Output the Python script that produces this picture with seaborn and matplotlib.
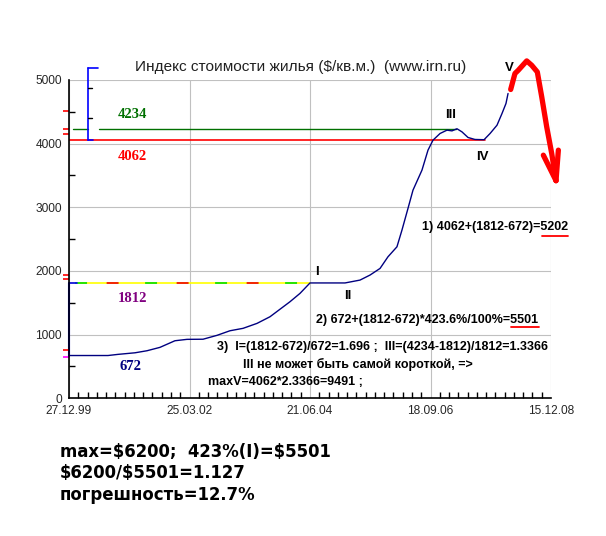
import pandas as pd
import seaborn as sns
import matplotlib.pyplot as plt
from matplotlib.lines import Line2D

# index values ($ per sq.m.)
dates = ["2000-01-03", "2000-09-17", "2000-11-24", "2001-03-20", "2001-06-09",
         "2001-09-05", "2001-12-16", "2002-03-08", "2002-06-25", "2002-09-28",
         "2002-12-25", "2003-03-24", "2003-06-27", "2003-09-23", "2004-02-06",
         "2004-04-14", "2004-06-21", "2005-02-14", "2005-05-27", "2005-08-03",
         "2005-10-10", "2005-12-03", "2006-02-02", "2006-03-08", "2006-04-18",
         "2006-05-22", "2006-07-22", "2006-09-01", "2006-10-05", "2006-11-22",
         "2007-01-08", "2007-02-11", "2007-03-17", "2007-04-20", "2007-05-31",
         "2007-07-17", "2007-09-17", "2007-10-28", "2007-12-14", "2008-01-17",
         "2008-02-13", "2008-02-27"]
index_usd = [672, 672, 690, 715, 747,
             800, 904, 926, 928, 989,
             1061, 1099, 1177, 1281, 1517,
             1648, 1812, 1812, 1857, 1936,
             2040, 2223, 2380, 2642, 2983,
             3270, 3584, 3898, 4055, 4160,
             4212, 4201, 4234, 4185, 4097,
             4066, 4062, 4160, 4290, 4474,
             4631, 4788]

# hand drawn forecast arrow
arrow_dates = ["2008-03-16", "2008-04-14", "2008-05-07", "2008-07-03", "2008-08-06",
               "2008-09-13", "2008-10-13", "2008-11-16", "2008-12-20", "2009-01-18"]
arrow_values = [4851, 5102, 5154, 5300, 5231, 5126, 4735, 4262, 3844, 3419]
barb_left_dates = ["2008-10-24", "2009-01-18"]
barb_left_values = [3819, 3419]
barb_right_dates = ["2009-02-03", "2009-01-18"]
barb_right_values = [3898, 3419]

tick_dates = ["1999-12-27", "2002-03-25", "2004-06-21", "2006-09-18", "2008-12-15"]
tick_labels = ["27.12.99", "25.03.02", "21.06.04", "18.09.06", "15.12.08"]

level_start, level_i, level_iv, level_iii = 672, 1812, 4062, 4234

df = pd.DataFrame({"date": pd.to_datetime(dates), "index": index_usd})
t = pd.to_datetime

sns.set_style("white")
plt.rcParams['font.family'] = ['Liberation Sans', 'DejaVu Sans']
plt.rcParams['lines.scale_dashes'] = False
plt.rcParams['text.parse_math'] = False

W, H = 606, 536
fig = plt.figure(figsize=(W / 100, H / 100), dpi=100)
ax = fig.add_axes([69 / W, 1 - 398.3 / H, 482 / W, 318.3 / H])


def fx(x, y):
    return x / W, 1 - y / H


# grid
ax.set_ylim(0, 5000)
ax.set_xlim(t(tick_dates[0]), t(tick_dates[-1]))
ax.set_xticks(t(tick_dates))
ax.set_xticklabels(tick_labels)
ax.set_xticks(pd.date_range(tick_dates[0], tick_dates[-1], periods=53), minor=True)
ax.set_yticks([0, 1000, 2000, 3000, 4000, 5000])
ax.set_yticks([500, 1500, 2500, 3500, 4500], minor=True)
ax.grid(True, which="major", color="#c0c0c0", lw=0.8)
ax.set_axisbelow(True)
for s in ["top", "right"]:
    ax.spines[s].set_visible(False)
for s in ["left", "bottom"]:
    ax.spines[s].set_color("black")
    ax.spines[s].set_linewidth(1.2)
ax.tick_params(axis="y", which="major", direction="inout", length=8, labelsize=8.6, pad=1.2, color="black", width=1)
ax.tick_params(axis="y", which="minor", direction="in", length=4, color="black", width=1, left=True)
ax.tick_params(axis="x", which="major", direction="in", length=5, labelsize=8.6, pad=4.6, color="black", width=1)
ax.tick_params(axis="x", which="minor", direction="in", length=4, color="black", width=1, bottom=True)

# level lines
ax.plot([t("2000-01-23"), t("2000-05-04")], [level_iii] * 2, color="#007000", lw=1)
ax.plot([t("2000-07-18"), t("2007-03-10")], [level_iii] * 2, color="#007000", lw=1)
ax.plot([t(tick_dates[0]), t("2007-09-23")], [level_iv] * 2, color="red", lw=1.2)
i_line = [t(tick_dates[0]), t(tick_dates[2])]
ax.plot(i_line, [level_i] * 2, color="#ffff00", lw=1.2)
ax.plot(i_line, [level_i] * 2, color="#00dd00", lw=1.2, ls=(46, (8.6, 41.8)))
ax.plot(i_line, [level_i] * 2, color="#ee0000", lw=1.2, ls=(23.3, (8.6, 41.8)))
ax.plot([t(tick_dates[0]), t("2000-02-19")], [level_i] * 2, color="blue", lw=1.2)
ax.plot([t(tick_dates[0])] * 2, [level_start, level_i], color="blue", lw=1.5, clip_on=False)

# bracket on the left
bx = t("2000-05-04")
ax.plot([bx, bx], [4055, 5185], color="blue", lw=1.2, clip_on=False)
ax.plot([bx, t("2000-07-11")], [5185, 5185], color="blue", lw=1.2, clip_on=False)
ax.plot([bx, t("2000-06-07")], [4055, 4055], color="blue", lw=1.2, clip_on=False)
for v in [4871, 4400]:
    ax.plot([bx, t("2000-05-31")], [v, v], color="black", lw=1, clip_on=False)

# red marks on the y axis
ax.hlines([4515, 4238, 4144, 1935, 1878, 758], -0.012, 0, color="red", lw=1.2,
          transform=ax.get_yaxis_transform(), clip_on=False)
ax.hlines([648], -0.012, 0, color="magenta", lw=1.2,
          transform=ax.get_yaxis_transform(), clip_on=False)

# index curve
sns.lineplot(data=df, x="date", y="index", ax=ax, color="#000080", lw=1)
ax.set_xlabel("")
ax.set_ylabel("")

# forecast arrow
ax.plot(t(arrow_dates), arrow_values, color="red", lw=3.8, solid_joinstyle="round",
        solid_capstyle="round", clip_on=False)
ax.plot(t(barb_left_dates), barb_left_values, color="red", lw=3.8, solid_capstyle="round", clip_on=False)
ax.plot(t(barb_right_dates), barb_right_values, color="red", lw=3.8, solid_capstyle="round", clip_on=False)

# title
fig.text(*fx(301, 67), "Индекс стоимости жилья ($/кв.м.)  (www.irn.ru)", ha="center", va="center",
         fontsize=11.1, color="#202020")

# level labels
serif = dict(family="Liberation Serif", fontweight="bold", fontsize=10.5, ha="center", va="center")
fig.text(*fx(132, 114), str(level_iii), color="#007000", **serif)
fig.text(*fx(132, 157), str(level_iv), color="red", **serif)
fig.text(*fx(133, 299), str(level_i), color="#800080", **serif)
fig.text(*fx(130, 367), str(level_start), color="#000080", **serif)

# wave numbers
bold = dict(fontweight="bold", fontsize=9.5, ha="center", va="center", color="black")
fig.text(*fx(317, 272), "I", **bold)
fig.text(*fx(348, 296), "II", **bold)
fig.text(*fx(451, 115), "III", **bold)
fig.text(*fx(482, 157), "IV", **bold)
fig.text(*fx(509, 68), "V", **bold)

# calculations
calc = dict(fontweight="bold", fontsize=9, ha="left", va="center", color="black")
fig.text(*fx(422, 227), "1) 4062+(1812-672)=5202", **calc)
fig.text(*fx(316, 320), "2) 672+(1812-672)*423.6%/100%=5501", **calc)
fig.text(*fx(217, 347), "3)  I=(1812-672)/672=1.696 ;  III=(4234-1812)/1812=1.3366", **calc)
fig.text(*fx(243, 364), "III не может быть самой короткой, =>", **calc)
fig.text(*fx(208, 382), "maxV=4062*2.3366=9491 ;", **calc)
fig.add_artist(Line2D([541.7 / W, 568 / W], [1 - 236 / H] * 2, color="red", lw=1.3))
fig.add_artist(Line2D([511 / W, 539 / W], [1 - 327.3 / H] * 2, color="red", lw=1.3))

# summary below the chart
summ = dict(family="DejaVu Sans", fontweight="bold", fontsize=11.9, ha="left", va="center", color="black")
fig.text(*fx(60, 452), "max=$6200;  423%(I)=$5501", **summ)
fig.text(*fx(60, 473), "$6200/$5501=1.127", **summ)
fig.text(*fx(60, 495), "погрешность=12.7%", **summ)

fig.savefig("out.png", dpi=100)
